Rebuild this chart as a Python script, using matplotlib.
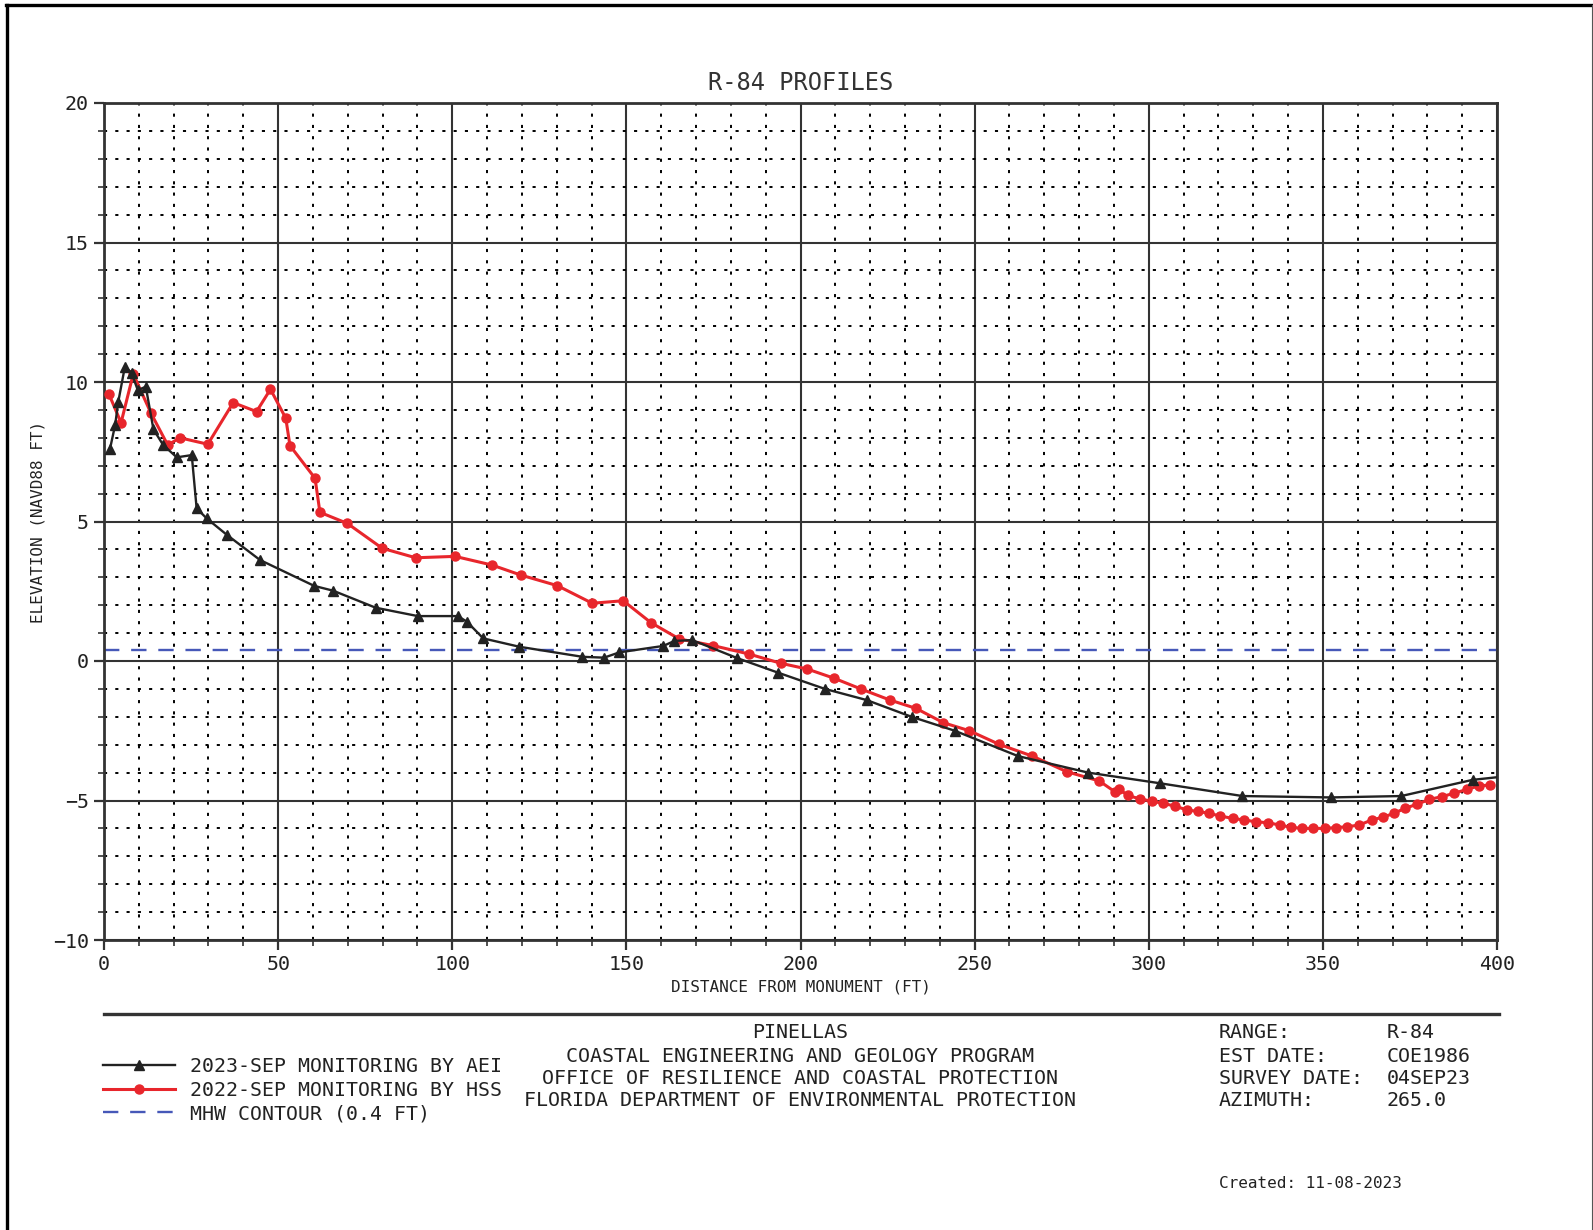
import matplotlib
matplotlib.use('Agg')
import matplotlib.pyplot as plt
from matplotlib.lines import Line2D
import numpy as np

plt.rcParams['font.family'] = ['DejaVu Sans Mono', 'DejaVu Sans']

# 2023-SEP survey (black, triangles)
x_2023 = [1.7, 3.2, 4.1, 6.0, 7.9, 9.7, 12.0, 14.2, 17.0, 20.9, 25.2, 26.6, 29.5, 35.2,
          44.8, 60.4, 65.8, 78.0, 90.1, 101.6, 104.2, 108.9, 119.3, 137.4, 143.6, 148.0,
          160.6, 163.8, 168.9, 181.9, 193.6, 207.0, 219.0, 231.9, 244.3, 262.5, 282.6,
          303.1, 326.9, 352.2, 372.5, 393.0, 405.0]
z_2023 = [7.59, 8.46, 9.29, 10.55, 10.33, 9.71, 9.83, 8.30, 7.74, 7.30, 7.38, 5.47, 5.11, 4.53,
          3.62, 2.69, 2.52, 1.91, 1.61, 1.61, 1.41, 0.81, 0.51, 0.15, 0.12, 0.31,
          0.54, 0.72, 0.75, 0.10, -0.42, -1.00, -1.40, -2.00, -2.50, -3.41, -4.00,
          -4.38, -4.84, -4.89, -4.84, -4.26, -4.10]

# 2022-SEP survey (red, circles)
x_2022 = [1.4, 4.9, 8.4, 13.5, 18.3, 21.8, 29.8, 37.1, 43.8, 47.8, 52.2, 53.4, 60.6, 62.0,
          69.9, 79.9, 89.5, 100.8, 111.4, 119.7, 130.2, 140.2, 149.1, 157.1, 165.2, 175.0,
          185.2, 194.3, 202.0, 209.7, 217.5, 225.7, 233.2, 241.0, 248.5, 257.1, 266.6,
          276.5, 285.8, 290.2, 291.5, 294.1, 297.6, 300.8, 304.0, 307.5, 311.0, 314.1,
          317.4, 320.6, 324.1, 327.3, 330.8, 334.3, 337.7, 340.8, 344.1, 347.2, 350.6,
          353.7, 357.0, 360.4, 364.0, 367.2, 370.4, 373.6, 377.1, 380.6, 384.2, 387.7,
          391.4, 394.8, 398.1]
z_2022 = [9.57, 8.54, 10.29, 8.88, 7.74, 8.00, 7.77, 9.26, 8.94, 9.74, 8.70, 7.72, 6.55, 5.33,
          4.93, 4.04, 3.70, 3.75, 3.44, 3.08, 2.70, 2.07, 2.16, 1.37, 0.79, 0.55,
          0.25, -0.08, -0.29, -0.62, -1.01, -1.40, -1.70, -2.21, -2.50, -2.99, -3.41,
          -3.97, -4.30, -4.68, -4.60, -4.82, -4.95, -5.02, -5.10, -5.20, -5.34, -5.39,
          -5.46, -5.56, -5.64, -5.70, -5.76, -5.80, -5.88, -5.96, -6.00, -6.00, -6.00,
          -5.97, -5.94, -5.88, -5.70, -5.60, -5.46, -5.28, -5.13, -4.96, -4.86, -4.74,
          -4.60, -4.48, -4.44]

mhw = 0.4
labels = ['2023-SEP MONITORING BY AEI', '2022-SEP MONITORING BY HSS', 'MHW CONTOUR (0.4 FT)']
center_lines = ['PINELLAS', 'COASTAL ENGINEERING AND GEOLOGY PROGRAM',
                'OFFICE OF RESILIENCE AND COASTAL PROTECTION',
                'FLORIDA DEPARTMENT OF ENVIRONMENTAL PROTECTION']
info_keys = ['RANGE:', 'EST DATE:', 'SURVEY DATE:', 'AZIMUTH:']
info_vals = ['R-84', 'COE1986', '04SEP23', '265.0']

W, H = 1593, 1230
fig = plt.figure(figsize=(W / 100, H / 100), dpi=100)
ax = fig.add_axes([104 / W, 1 - 940 / H, (1497 - 104) / W, (940 - 103) / H])

dark = '#333333'
l1, = ax.plot(x_2023, z_2023, color='#222222', lw=1.7, marker='^', ms=7.5, zorder=4)
l2, = ax.plot(x_2022, z_2022, color='#e8262c', lw=2.2, marker='o', ms=6.5, zorder=3)
l3, = ax.plot([0, 400], [mhw, mhw], color='#4658b8', lw=1.7, dashes=(6.5, 5), zorder=2)

ax.set_xlim(0, 400)
ax.set_ylim(-10, 20)
ax.set_xticks(np.arange(0, 401, 50))
ax.set_xticks(np.arange(0, 401, 10), minor=True)
ax.set_yticks(np.arange(-10, 21, 5))
ax.set_yticks(np.arange(-10, 21, 1), minor=True)
ax.grid(which='major', color=dark, lw=1.5, ls='-')
ax.grid(which='minor', color='black', lw=1.4, dashes=(1.6, 4.2))
ax.set_axisbelow(True)
for s in ax.spines.values():
    s.set_color(dark)
    s.set_linewidth(2.0)
ax.tick_params(which='major', length=7, width=1.6, color=dark, labelsize=14.4,
               labelcolor='#222222', pad=4)
ax.tick_params(which='minor', length=4, width=1.2, color=dark)

ax.set_title('R-84 PROFILES', fontsize=17, color=dark, pad=9)
ax.set_xlabel('DISTANCE FROM MONUMENT (FT)', fontsize=11.5, color='#222222', labelpad=4)
ax.set_ylabel('ELEVATION (NAVD88 FT)', fontsize=11.5, color='#222222', labelpad=5)

# footer
fig.add_artist(Line2D([104 / W, 1499 / W], [1 - 1014 / H] * 2, color=dark, lw=2.4))
fig.legend([l1, l2, l3], labels, loc='upper left',
           bbox_to_anchor=(103 / W, 1 - 1057 / H), frameon=False, fontsize=14.3,
           handlelength=3.6, handletextpad=0.8, labelspacing=0.23, borderpad=0,
           borderaxespad=0, numpoints=1, labelcolor='#222222')

ys = [1032, 1056, 1078, 1100]
for t, y in zip(center_lines, ys):
    fig.text(800 / W, 1 - y / H, t, ha='center', va='center', fontsize=14.4, color='#222222')
for k, v, y in zip(info_keys, info_vals, ys):
    fig.text(1219 / W, 1 - y / H, k, ha='left', va='center', fontsize=14.4, color='#222222')
    fig.text(1387 / W, 1 - y / H, v, ha='left', va='center', fontsize=14.4, color='#222222')
fig.text(1219 / W, 1 - 1183 / H, 'Created: 11-08-2023', ha='left', va='center',
         fontsize=11.5, color='#222222')

# page border
fig.add_artist(Line2D([6 / W, 1592 / W], [1 - 5 / H] * 2, color='black', lw=2.4))
fig.add_artist(Line2D([7 / W, 7 / W], [0, 1 - 5 / H], color='black', lw=2.4))
fig.add_artist(Line2D([1591.5 / W, 1591.5 / W], [0, 1 - 5 / H], color='#555555', lw=0.8))

fig.savefig('out.png', dpi=100)
